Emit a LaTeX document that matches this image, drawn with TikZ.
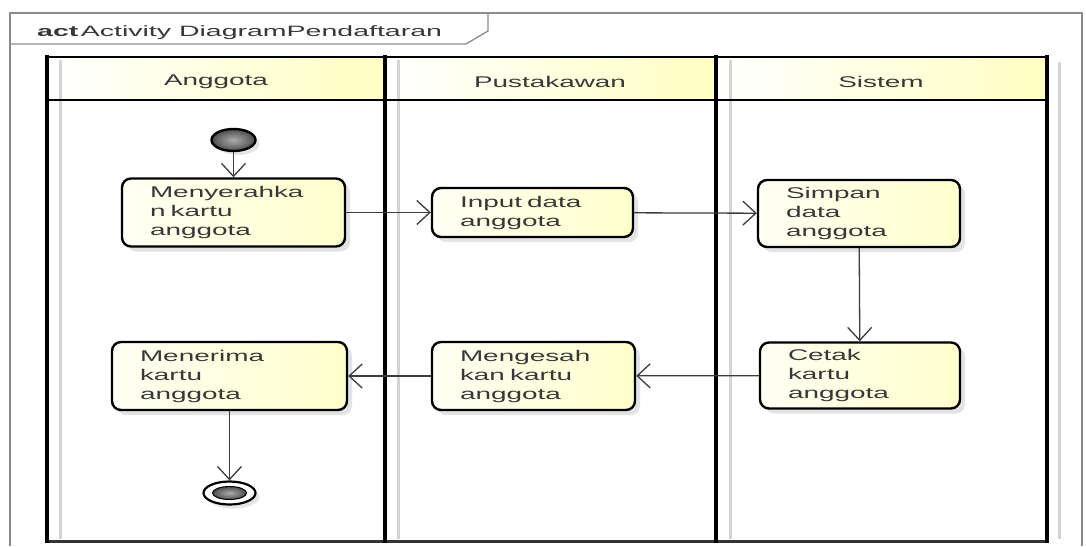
\documentclass[tikz,border=0pt]{standalone}
\usepackage{fontspec}
\usetikzlibrary{arrows.meta,shadows,shapes.geometric}

% Wide sans faces used throughout the diagram
\newfontfamily\diagfont[FakeStretch=1.8,WordSpace=1.6]{Liberation Sans}
\newfontfamily\titlefont[FakeStretch=1.9]{Liberation Sans}

\definecolor{laneyellow}{HTML}{FFFFC2}
\definecolor{boxlight}{HTML}{FFFFF4}
\definecolor{boxyellow}{HTML}{FFFFCC}
\definecolor{inkgray}{HTML}{383838}
\definecolor{flowgray}{HTML}{3C3C3C}
\definecolor{framegray}{HTML}{8C8C8C}
\definecolor{shadegray}{HTML}{D4D4D4}

\tikzset{
  diagtext/.style={font=\diagfont\fontsize{15.5}{19}\selectfont, text=inkgray},
  actbox/.style={diagtext, draw=black, line width=2.4pt, rounded corners=9pt,
    left color=boxlight, right color=boxyellow,
    drop shadow={shadow xshift=5pt, shadow yshift=-5pt, opacity=0.22, fill=gray},
    inner xsep=28pt, inner ysep=0pt, align=left, anchor=center},
  initnode/.style={ellipse, draw=black, line width=2.4pt, inner color=gray!65,
    outer color=black!70, minimum width=44pt, minimum height=22pt, inner sep=0pt,
    drop shadow={shadow xshift=4pt, shadow yshift=-4pt, opacity=0.2, fill=gray}},
  finalnode/.style={ellipse, draw=black, line width=2.2pt, fill=white,
    minimum width=52pt, minimum height=23pt, inner sep=0pt,
    drop shadow={shadow xshift=4pt, shadow yshift=-4pt, opacity=0.2, fill=gray}},
  finalcore/.style={ellipse, draw=black, line width=1pt, inner color=gray!65,
    outer color=black!70, minimum width=34pt, minimum height=13pt, inner sep=0pt},
  flow/.style={draw=flowgray, line width=1.3pt,
    -{Straight Barb[length=13pt, width=24pt, line width=1.3pt]}},
  lanehead/.style={diagtext, anchor=center},
  laneline/.style={draw=black, line width=4pt},
  laneshade/.style={draw=shadegray, line width=3pt},
}

\begin{document}
\begin{tikzpicture}[x=1pt, y=-1pt]
  \useasboundingbox (0,0) rectangle (1086,546);
  \fill[white] (0,0) rectangle (1086,546);

  % outer activity frame and its title tab
  \draw[framegray, line width=1.3pt] (10,546) -- (10,13) -- (1082,13) -- (1082,546);
  \draw[framegray, line width=1.3pt] (10,44) -- (466,44) -- (488,31) -- (488,13);
  \node[anchor=base west, inner sep=0pt, text=inkgray,
        font=\titlefont\fontsize{15}{18}\selectfont] (title) at (37,36)
        {\textbf{act}\,Activity DiagramPendaftaran};

  % swimlane headers
  \shade[left color=white, right color=laneyellow] (47,57) rectangle (385,100);
  \shade[left color=white, right color=laneyellow] (385,57) rectangle (716,100);
  \shade[left color=white, right color=laneyellow] (716,57) rectangle (1047,100);

  % soft shade lines beside the partitions
  \draw[laneshade] (60,60) -- (60,539);
  \draw[laneshade] (398,60) -- (398,539);
  \draw[laneshade] (730,60) -- (730,539);
  \draw[laneshade] (1059,62) -- (1059,539);

  % swimlane borders
  \draw[black, line width=2pt] (47,57) -- (1047,57);
  \draw[black, line width=2pt] (47,100) -- (1047,100);
  \draw[black!80, line width=3pt] (47,541) -- (1047,541);
  \draw[laneline] (47,55) -- (47,543);
  \draw[laneline] (385,55) -- (385,543);
  \draw[laneline] (716,55) -- (716,543);
  \draw[laneline] (1047,55) -- (1047,543);

  \node[lanehead] (laneA) at (216,82) {Anggota};
  \node[lanehead] (laneP) at (550,82) {Pustakawan};
  \node[lanehead] (laneS) at (881,82) {Sistem};

  % activity nodes
  \node[initnode] (start) at (233.5,140) {};
  \node[actbox, text width=167pt, minimum height=68pt] (serah) at (233.5,212.5)
        {Menyerahka\\n kartu\\anggota};
  \node[actbox, text width=145pt, minimum height=49pt] (input) at (532.5,212.5)
        {Input data\\anggota};
  \node[actbox, text width=146pt, minimum height=67pt] (simpan) at (859,213.5)
        {Simpan\\data\\anggota};
  \node[actbox, text width=144pt, minimum height=66pt] (cetak) at (860,375.5)
        {Cetak\\kartu\\anggota};
  \node[actbox, text width=147pt, minimum height=68pt] (sah) at (533.5,376)
        {Mengesah\\kan kartu\\anggota};
  \node[actbox, text width=179pt, minimum height=68pt] (terima) at (229.5,376)
        {Menerima\\kartu\\anggota};
  \node[finalnode] (end) at (229.5,493) {};
  \node[finalcore] (endcore) at (end.center) {};

  % control flows
  \draw[flow] (start) -- (serah);
  \draw[flow] (serah) -- (input);
  \draw[flow] (input) -- (simpan);
  \draw[flow] (simpan) -- (cetak);
  \draw[flow] (cetak) -- (sah);
  \draw[flow] (sah) -- (terima);
  \draw[flow] (terima) -- (end);
\end{tikzpicture}
\end{document}
